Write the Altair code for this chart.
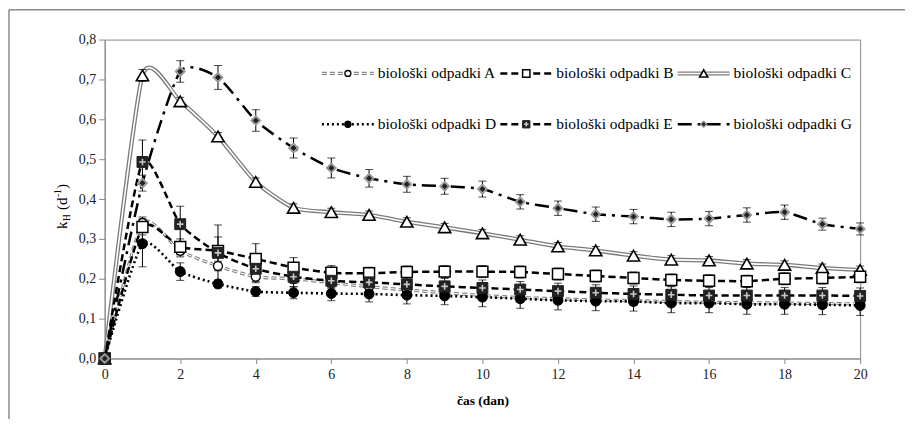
import altair as alt
import pandas as pd

days = list(range(21))
names = ["biološki odpadki A", "biološki odpadki B", "biološki odpadki C",
         "biološki odpadki D", "biološki odpadki E", "biološki odpadki G"]

val_A = [0, 0.340, 0.270, 0.232, 0.205, 0.200, 0.190, 0.180, 0.172, 0.165, 0.158,
         0.153, 0.150, 0.147, 0.145, 0.143, 0.141, 0.140, 0.139, 0.138, 0.137]
val_B = [0, 0.330, 0.280, 0.270, 0.250, 0.228, 0.215, 0.214, 0.217, 0.218, 0.218,
         0.217, 0.212, 0.207, 0.202, 0.197, 0.195, 0.194, 0.200, 0.202, 0.205]
val_C = [0, 0.710, 0.645, 0.557, 0.443, 0.378, 0.367, 0.360, 0.343, 0.329, 0.314,
         0.298, 0.281, 0.271, 0.258, 0.248, 0.246, 0.238, 0.235, 0.227, 0.222]
val_D = [0, 0.288, 0.218, 0.187, 0.168, 0.165, 0.163, 0.162, 0.159, 0.157, 0.154,
         0.150, 0.146, 0.144, 0.143, 0.139, 0.139, 0.136, 0.136, 0.135, 0.133]
val_E = [0, 0.493, 0.337, 0.265, 0.225, 0.205, 0.195, 0.191, 0.186, 0.181, 0.177,
         0.173, 0.169, 0.165, 0.162, 0.160, 0.158, 0.158, 0.158, 0.158, 0.157]
val_G = [0, 0.440, 0.720, 0.705, 0.597, 0.528, 0.478, 0.452, 0.437, 0.432, 0.425,
         0.393, 0.377, 0.362, 0.356, 0.349, 0.351, 0.360, 0.367, 0.337, 0.325]

err_A = [0, 0.015, 0.015, 0.012, 0.012, 0.012, 0.012, 0.012, 0.012, 0.012, 0.012,
         0.012, 0.012, 0.012, 0.012, 0.012, 0.012, 0.012, 0.012, 0.012, 0.012]
err_B = [0, 0.020, 0.020, 0.035, 0.038, 0.025, 0.018, 0.015, 0.015, 0.015, 0.015,
         0.015, 0.015, 0.015, 0.015, 0.015, 0.015, 0.015, 0.015, 0.015, 0.015]
err_C = [0, 0.015, 0.010, 0.010, 0.010, 0.010, 0.010, 0.010, 0.010, 0.010, 0.010,
         0.010, 0.010, 0.010, 0.010, 0.010, 0.010, 0.010, 0.010, 0.010, 0.010]
err_D = [0, 0.058, 0.022, 0.010, 0.012, 0.015, 0.018, 0.020, 0.022, 0.022, 0.024,
         0.024, 0.024, 0.024, 0.024, 0.024, 0.024, 0.025, 0.025, 0.025, 0.025]
err_E = [0, 0.055, 0.045, 0.070, 0.035, 0.025, 0.020, 0.020, 0.020, 0.020, 0.020,
         0.020, 0.020, 0.020, 0.020, 0.020, 0.020, 0.020, 0.020, 0.020, 0.020]
err_G = [0, 0.020, 0.027, 0.030, 0.027, 0.025, 0.025, 0.022, 0.020, 0.020, 0.020,
         0.018, 0.018, 0.018, 0.018, 0.018, 0.018, 0.018, 0.018, 0.015, 0.015]

values = [val_A, val_B, val_C, val_D, val_E, val_G]
errors = [err_A, err_B, err_C, err_D, err_E, err_G]

rows = []
for n, vs, es in zip(names, values, errors):
    for d, v, e in zip(days, vs, es):
        rows.append({"series": n, "day": d, "value": v, "lo": v - e, "hi": v + e})
df = pd.DataFrame(rows)

FONT = "Liberation Serif, Times New Roman, Times, serif"
x_axis = alt.Axis(values=list(range(0, 21, 2)), title="čas (dan)",
                  titleFontWeight="bold", titleFontSize=13.5, titlePadding=12,
                  tickSize=5, labelPadding=4, labelFlush=False)
y_axis = alt.Axis(values=[0.0, 0.1, 0.2, 0.3, 0.4, 0.5, 0.6, 0.7, 0.8], title=None,
                  tickSize=6, labelPadding=3, labelOverlap=False, labelFlush=False,
                  labelExpr="replace(format(datum.value, '.1f'), '.', ',')")
xscale = alt.Scale(domain=[0, 20], nice=False)
yscale = alt.Scale(domain=[0, 0.8], nice=False)
xenc = alt.X("day:Q", scale=xscale, axis=x_axis)

def yq(field):
    return alt.Y(field + ":Q", scale=yscale, axis=y_axis)

styles = {
    names[0]: dict(lines=[("#808080", 3.2, [5, 3]), ("white", 1.0, [5, 3])],
                   marks=[dict(shape="circle", size=80, fill="white", stroke="black", sw=1.3)]),
    names[1]: dict(lines=[("black", 2.5, [7, 4])],
                   marks=[dict(shape="square", size=120, fill="white", stroke="black", sw=1.5)]),
    names[2]: dict(lines=[("#7a7a7a", 4.2, []), ("white", 1.6, [])],
                   marks=[dict(shape="triangle-up", size=150, fill="white", stroke="black", sw=1.6)]),
    names[3]: dict(lines=[("black", 2.6, [2, 3])],
                   marks=[dict(shape="circle", size=100, fill="black", stroke="black", sw=1)]),
    names[4]: dict(lines=[("black", 2.5, [7, 4])],
                   marks=[dict(shape="square", size=120, fill="#222", stroke="#222", sw=1),
                          dict(shape="M-0.6,0L0.6,0M0,-0.6L0,0.6", size=120, fill=None,
                               stroke="#c8c8c8", sw=1.6)]),
    names[5]: dict(lines=[("black", 2.5, [14, 6, 3, 6])],
                   marks=[dict(shape="diamond", size=110, fill="#9a9a9a", stroke="#9a9a9a", sw=1),
                          dict(shape="diamond", size=25, fill="#222", stroke="#222", sw=1)]),
}

def point_mark(m):
    kw = dict(shape=m["shape"], size=m["size"], stroke=m["stroke"], strokeWidth=m["sw"],
              opacity=1)
    if m["fill"] is None:
        kw["filled"] = False
    else:
        kw["filled"] = True
        kw["fill"] = m["fill"]
    return kw

line_layers, err_layers, mark_layers, legend_layers = [], [], [], []
order = [names[2], names[0], names[1], names[3], names[4], names[5]]
for n in order:
    sub = alt.Chart(df[df.series == n])
    for color, w, dash in styles[n]["lines"]:
        kw = dict(interpolate="cardinal", tension=0.4, color=color, strokeWidth=w)
        if dash:
            kw["strokeDash"] = dash
        line_layers.append(sub.mark_line(**kw).encode(x=xenc, y=yq("value")))
for n in names:
    sub = alt.Chart(df[(df.series == n) & (df.day > 0)])
    err_layers.append(sub.mark_rule(color="black", strokeWidth=1).encode(
        x=xenc, y=yq("lo"), y2="hi:Q"))
    for f in ["lo", "hi"]:
        err_layers.append(sub.mark_tick(color="black", orient="horizontal", size=8,
                                        thickness=1).encode(x=xenc, y=yq(f)))
for n in order:
    sub = alt.Chart(df[df.series == n])
    for m in styles[n]["marks"]:
        mark_layers.append(sub.mark_point(**point_mark(m)).encode(x=xenc, y=yq("value")))

# legend (two rows of three entries, inside the plot)
text_x = [274, 453, 631, 274, 453, 631]
row_y = [34, 34, 34, 85, 85, 85]
for i, n in enumerate(names):
    one = alt.Chart(pd.DataFrame({"series": [n]}))
    tx, ty = text_x[i], row_y[i]
    for color, w, dash in styles[n]["lines"]:
        kw = dict(color=color, strokeWidth=w)
        if dash:
            kw["strokeDash"] = dash
        legend_layers.append(one.mark_rule(**kw).encode(
            x=alt.value(tx - 56), x2=alt.value(tx - 4), y=alt.value(ty)))
    for m in styles[n]["marks"]:
        mm = dict(m)
        mm["size"] = m["size"] * 0.45
        legend_layers.append(one.mark_point(**point_mark(mm)).encode(
            x=alt.value(tx - 30), y=alt.value(ty)))
    legend_layers.append(one.mark_text(align="left", baseline="middle", font=FONT,
                                       fontSize=15.5, color="black").encode(
        x=alt.value(tx), y=alt.value(ty), text="series:N"))

# y-axis title k_H (d^-1) built from pieces
title_parts = [("k", -38, 190, 15), ("H", -35, 182, 9.5), ("(d", -38, 171, 15),
               ("-1", -44, 158, 9.5), (")", -38, 150, 15)]
title_layers = []
for t, px, py, fs in title_parts:
    title_layers.append(alt.Chart(pd.DataFrame({"t": [t]})).mark_text(
        angle=270, align="left", baseline="alphabetic", font=FONT, fontSize=fs,
        color="black").encode(x=alt.value(px), y=alt.value(py), text="t:N"))

frame = [
    alt.Chart(pd.DataFrame({"a": [0]})).mark_rule(color="#8a8a8a", strokeWidth=1.5, clip=False).encode(
        x=alt.value(-96), y=alt.value(-30), y2=alt.value(400)),
    alt.Chart(pd.DataFrame({"a": [0]})).mark_rule(color="#8a8a8a", strokeWidth=1.5, clip=False).encode(
        x=alt.value(-96), x2=alt.value(820), y=alt.value(-30)),
]

chart = alt.layer(*frame, *line_layers, *err_layers, *mark_layers, *legend_layers,
                  *title_layers).properties(
    width=758, height=320,
    autosize=alt.AutoSizeParams(type="none"),
    padding={"left": 97, "top": 31, "right": 45, "bottom": 60},
).configure_view(stroke="#8a8a8a", strokeWidth=1).configure_axis(
    grid=False, domainColor="#8a8a8a", tickColor="#8a8a8a", labelFont=FONT,
    labelFontSize=14, labelColor="#222", titleFont=FONT, titleColor="black")

chart.save("out.html", embed_options={"renderer": "svg", "actions": False})
